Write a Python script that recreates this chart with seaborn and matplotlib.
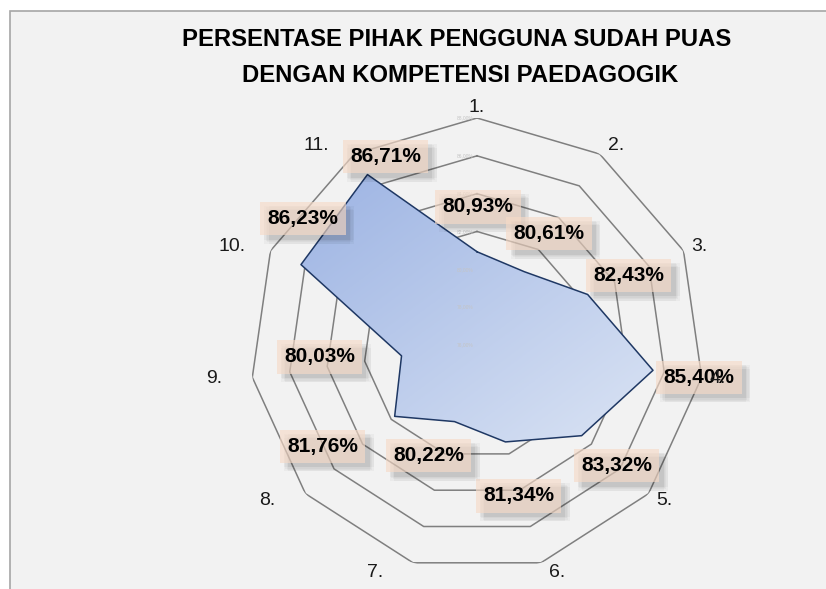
import numpy as np
import matplotlib
matplotlib.use('Agg')
import matplotlib.pyplot as plt
import matplotlib.patheffects as pe
import seaborn as sns
from matplotlib.image import AxesImage
from matplotlib.colors import LinearSegmentedColormap
from matplotlib.patches import Rectangle

plt.rcParams['font.family'] = ['Liberation Sans', 'DejaVu Sans']

# data radar
kategori = ['1.', '2.', '3.', '4.', '5.', '6.', '7.', '8.', '9.', '10.', '11.']
nilai = [80.93, 80.61, 82.43, 85.40, 83.32, 81.34, 80.22, 81.76, 80.03, 86.23, 86.71]
grid_nilai = [78, 80, 82, 84, 86, 88]
sumbu_nilai = [76, 78, 80, 82, 84, 86, 88]
judul = ['PERSENTASE PIHAK PENGGUNA SUDAH PUAS', 'DENGAN KOMPETENSI PAEDAGOGIK']

# geser label data (piksel: kanan, bawah)
geser = [(1, -45), (25, -38), (41, -19), (46, 7), (35, 30), (13, 54),
         (-26, 34), (-72, 30), (-82, 1), (2, -46), (18, -18)]

PX = 0.72  # 1 px = 0.72 pt pada dpi 100

fig = plt.figure(figsize=(8.26, 5.89), dpi=100)
fig.patch.set_facecolor('white')
fig.patches.append(Rectangle((10 / 826, -0.05), 1.1, 1 - 11 / 589 + 0.05,
                             transform=fig.transFigure, fc='#f2f2f2',
                             ec='#a6a6a6', lw=1.2, zorder=-5))

ax = fig.add_axes([250 / 826, 17 / 589, 454 / 826, 454 / 589], projection='polar')
ax.set_theta_zero_location('N')
ax.set_theta_direction(-1)
ax.set_facecolor('none')

n = len(kategori)
theta = np.arange(n) * 2 * np.pi / n
theta_tutup = np.append(theta, 2 * np.pi)
nilai_tutup = np.append(nilai, nilai[0])

# garis grid segi-11
for r in grid_nilai:
    ax.plot(theta_tutup, [r] * (n + 1), color='#7f7f7f', lw=1.1, zorder=1)

# isi poligon + gradasi
poly = ax.fill(theta, nilai, color='#bccbec', zorder=2, lw=0)[0]
cmap = LinearSegmentedColormap.from_list('biru', ['#9cb3e3', '#dbe4f4'])
u = np.linspace(0, 1, 200)
grad = (u[None, :] + u[:, None]) / 2
im = AxesImage(ax, cmap=cmap, interpolation='bilinear', extent=(0.1, 0.9, 0.28, 0.88))
im.set_transform(ax.transAxes)
im.set_data(grad)
im.set_zorder(2.5)
ax.add_image(im)
im.set_clip_path(poly)

sns.lineplot(x=theta_tutup, y=nilai_tutup, sort=False, ax=ax, color='#1f3864',
             lw=1.1, zorder=3)

ax.set_ylim(76, 88)
ax.axis('off')

# label sumbu nilai (sangat kecil)
for r in sumbu_nilai:
    ax.annotate(f'{r:.2f}'.replace('.', ',') + '%', (0, r), xytext=(-4 * PX, 0),
                textcoords='offset points', ha='right', va='center',
                fontsize=3.5, color='#c4c4c4', zorder=3.5)

# bayangan kotak label
bayangan = [pe.SimplePatchShadow(offset=o, shadow_rgbFace='black', alpha=0.03)
            for o in [(3, -3), (4, -4), (6, -3), (3, -6), (6, -6), (5, -5)]]

# label data
for t, v, (gx, gy) in zip(theta, nilai, geser):
    teks = f'{v:.2f}'.replace('.', ',') + '%'
    a = ax.annotate(teks, (t, v), xytext=(gx * PX, -gy * PX), textcoords='offset points',
                    ha='center', va='center', fontsize=15, fontweight='bold', color='black',
                    zorder=5,
                    bbox=dict(boxstyle='square,pad=0.35', fc=(0.965, 0.855, 0.78, 0.65), ec='none'))
    a.get_bbox_patch().set_path_effects(bayangan + [pe.Normal()])

# label kategori
for t, lab in zip(theta, kategori):
    s, c = np.sin(t), np.cos(t)
    dx = 16 if s > 0.1 else (-38 if s < -0.1 else 0)
    dy = -10 * c
    ax.annotate(lab, (t, 88), xytext=(dx * PX, -dy * PX), textcoords='offset points',
                ha='center', va='center', fontsize=14, color='#1a1a1a', zorder=6)

# judul
fig.text(457 / 826, 1 - 46 / 589, judul[0], ha='center', va='baseline',
         fontsize=17.2, fontweight='bold', color='black')
fig.text(460 / 826, 1 - 82 / 589, judul[1], ha='center', va='baseline',
         fontsize=17.2, fontweight='bold', color='black')

fig.savefig('out.png', dpi=100)
